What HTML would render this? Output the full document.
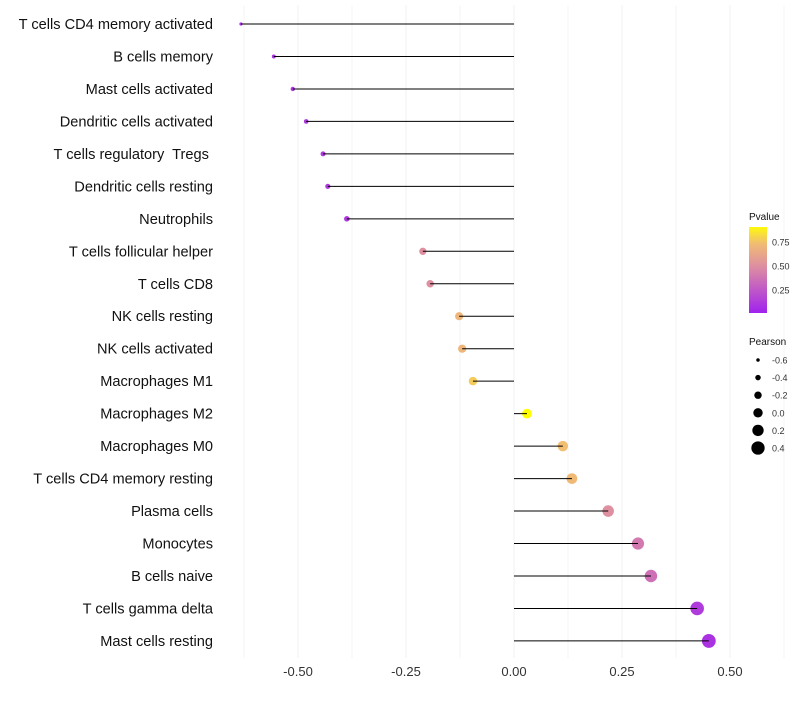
<!DOCTYPE html>
<html><head><meta charset="utf-8"><style>
body{margin:0;background:#fff;font-family:"Liberation Sans",sans-serif}
svg text{font-family:"Liberation Sans",sans-serif;white-space:pre}
</style></head><body>
<svg id="c" width="800" height="700"></svg>
<script>
const categories=["T cells CD4 memory activated","B cells memory","Mast cells activated","Dendritic cells activated","T cells regulatory  Tregs ","Dendritic cells resting","Neutrophils","T cells follicular helper","T cells CD8","NK cells resting","NK cells activated","Macrophages M1","Macrophages M2","Macrophages M0","T cells CD4 memory resting","Plasma cells","Monocytes","B cells naive","T cells gamma delta","Mast cells resting"];
const pearson=[-0.632,-0.556,-0.512,-0.481,-0.442,-0.431,-0.387,-0.211,-0.194,-0.127,-0.120,-0.095,0.030,0.113,0.134,0.218,0.287,0.317,0.424,0.451];
const pvalue=[0.08,0.1,0.1,0.1,0.12,0.12,0.12,0.5,0.5,0.7,0.7,0.78,0.92,0.74,0.72,0.5,0.4,0.36,0.12,0.08];
const xTicks=[-0.5,-0.25,0,0.25,0.5];
const xTickLabels=["-0.50","-0.25","0.00","0.25","0.50"];
const legendP=[0.25,0.5,0.75];
const legendSizes=[-0.6,-0.4,-0.2,0.0,0.2,0.4];
const NS="http://www.w3.org/2000/svg";
const svg=document.getElementById('c');
const X=v=>514+v*432;
const Y=i=>24+i*32.47;
const R=v=>4.7+4.9*v;
function mk(t,a,p){const e=document.createElementNS(NS,t);for(const k in a)e.setAttribute(k,a[k]);(p||svg).appendChild(e);return e;}
function lerp(a,b,t){return a.map((x,i)=>Math.round(x+(b[i]-x)*t));}
const stops=[[0,[160,32,240]],[0.5,[222,143,160]],[0.75,[242,192,112]],[0.92,[255,255,0]]];
function col(p){p=Math.max(0,Math.min(0.92,p));for(let i=0;i<stops.length-1;i++){if(p<=stops[i+1][0]){const t=(p-stops[i][0])/(stops[i+1][0]-stops[i][0]);const c=lerp(stops[i][1],stops[i+1][1],t);return `rgb(${c})`;}}return 'rgb(255,255,0)';}
for(let v=-0.625;v<=0.626;v+=0.125){const g=mk('line',{x1:X(v),x2:X(v),y1:5,y2:658,stroke:'#f0f0f0','stroke-width':Math.abs(v*4-Math.round(v*4))<1e-6?1:0.6});

}
xTicks.forEach((v,i)=>{const t=mk('text',{x:X(v),y:676,'text-anchor':'middle','font-size':13,fill:'#333'});t.textContent=xTickLabels[i];

});
categories.forEach((c,i)=>{
const t=mk('text',{x:213,y:Y(i)+5,'text-anchor':'end','font-size':14.6,fill:'#111'});t.textContent=c;


const p=mk('circle',{cx:X(pearson[i]),cy:Y(i),r:R(pearson[i]),fill:col(pvalue[i])});


const l=mk('line',{x1:X(0),x2:X(pearson[i]),y1:Y(i),y2:Y(i),stroke:'#000','stroke-width':1});


});
const defs=mk('defs',{});const gr=mk('linearGradient',{id:'pg',x1:0,y1:1,x2:0,y2:0},defs);
for(let k=0;k<=10;k++){const p=0.01+k*(0.906-0.01)/10;mk('stop',{offset:k/10,'stop-color':col(p)},gr);}
let t=mk('text',{x:749,y:220,'font-size':10,fill:'#111'});t.textContent='Pvalue';

const bar=mk('rect',{x:749,y:227,width:18,height:86,fill:'url(#pg)'});

legendP.forEach(p=>{const y=313-(p-0.01)*96;
t=mk('text',{x:772,y:y+3.5,'font-size':9,fill:'#333'});t.textContent=p.toFixed(2);
});
t=mk('text',{x:749,y:345,'font-size':10,fill:'#111'});t.textContent='Pearson';

legendSizes.forEach((v,i)=>{const y=360+i*17.6;
const c=mk('circle',{cx:758,cy:y,r:R(v),fill:'#000'});

t=mk('text',{x:772,y:y+3.5,'font-size':9,fill:'#333'});t.textContent=v.toFixed(1);
});
</script>
</body></html>
